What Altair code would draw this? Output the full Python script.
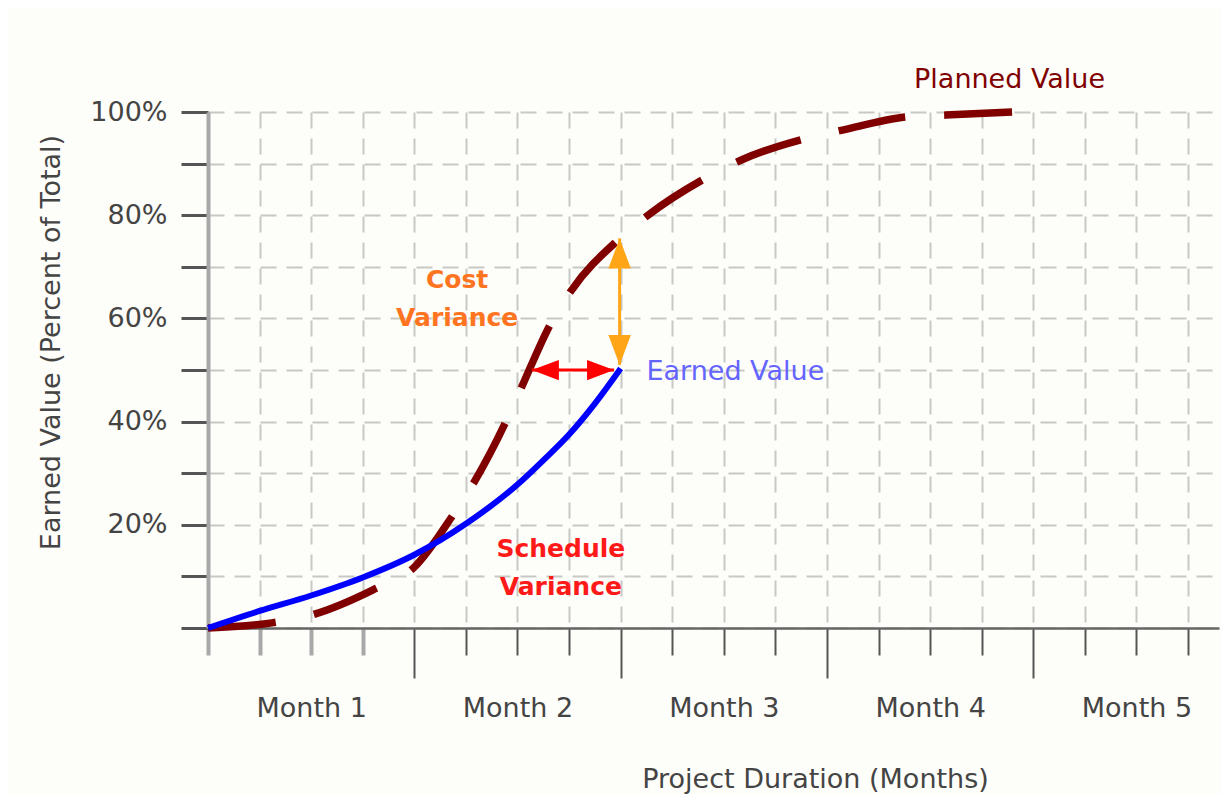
import altair as alt
import pandas as pd

# ---- data (x in grid units: 4 units = 1 month; y in %) ----
pv_t = [0, 1.24, 2.0, 3.2, 4.0, 4.75, 5.15, 5.8, 6.05, 6.65, 7.05, 7.95, 8.53, 9.63, 10.34, 11.6, 12.3, 13.6, 14.3, 15.6]
pv_v = [0, 1.0, 2.5, 7.4, 11.8, 21.9, 28.1, 40.5, 46.0, 59.1, 65.5, 75.2, 80.0, 87.1, 90.7, 94.9, 96.5, 99.1, 99.4, 100]

ev_t = [0, 1, 2, 3, 4, 5, 6, 6.5, 7, 7.5, 8]
ev_v = [0, 3.3, 6.3, 9.8, 14.2, 20.2, 27.8, 32.5, 37.5, 43.5, 50.3]

x_ticks = list(range(0, 20))
y_ticks = list(range(0, 101, 10))

ann_text = ["Planned Value", "Cost\nVariance", "Earned Value", "Schedule\nVariance"]
ann_t = [15.54, 4.83, 8.50, 6.84]
ann_v = [106.2, 67.4, 49.7, 15.3]
ann_color = ["#800000", "#ff7420", "#6464ff", "#ff1a1a"]
ann_align = ["center", "center", "left", "center"]
ann_weight = ["normal", "bold", "normal", "bold"]

# cost variance arrow (vertical) and schedule variance arrow (horizontal)
cv_t = [7.98]
cv_from = [51.0]
cv_to = [75.5]
cv_head_t = [7.98, 7.98]
cv_head_v = [72.6, 53.9]
cv_head_shape = ["M0,-1L-0.75,1L0.75,1Z", "M0,1L-0.75,-1L0.75,-1Z"]

sv_v = [50.0]
sv_from = [6.28]
sv_to = [7.87]
sv_head_t = [6.54, 7.61]
sv_head_v = [50.0, 50.0]
sv_head_shape = ["M-1,0L1,-0.75L1,0.75Z", "M1,0L-1,-0.75L-1,0.75Z"]

FONT = "DejaVu Sans"
W = 1011
H = 516

xscale = alt.Scale(domain=[0, 19.6], nice=False, zero=False)
yscale = alt.Scale(domain=[0, 100], nice=False)

xaxis = alt.Axis(
    values=x_ticks,
    grid=True, gridColor="#c8c8c4", gridDash=[16, 10], gridWidth=2,
    domainColor="#666666", domainWidth=2.5,
    tickSize=alt.condition("datum.value % 4 === 0 && datum.value > 0", alt.value(50), alt.value(27)),
    tickColor=alt.condition("datum.value < 4", alt.value("#a8a8a8"), alt.value("#555555")),
    tickWidth=alt.condition("datum.value < 4", alt.value(4), alt.value(2)),
    labelExpr="datum.value % 4 === 2 ? 'Month ' + ((datum.value + 2) / 4) : ''",
    labelFont=FONT, labelFontSize=27, labelColor="#444444", labelPadding=40,
    labelOverlap=False, labelFlush=False, labelBound=False,
    title="Project Duration (Months)", titleFont=FONT, titleFontSize=27,
    titleFontWeight="normal", titleColor="#444444", titlePadding=22, titleX=607,
)
yaxis = alt.Axis(
    values=y_ticks,
    grid=True, gridColor="#c8c8c4", gridDash=[16, 10], gridWidth=2,
    domainColor="#a8a8a8", domainWidth=4,
    tickSize=27, tickColor="#555555", tickWidth=3,
    labelExpr="datum.value > 0 && datum.value % 20 === 0 ? datum.value + '%' : ''",
    labelFont=FONT, labelFontSize=27, labelColor="#444444", labelPadding=14,
    labelOverlap=False, labelFlush=False,
    title="Earned Value (Percent of Total)", titleFont=FONT, titleFontSize=27,
    titleFontWeight="normal", titleColor="#444444", titlePadding=24, titleY=230,
)

def X(field):
    return alt.X(field, type="quantitative", scale=xscale, axis=xaxis)

def Y(field):
    return alt.Y(field, type="quantitative", scale=yscale, axis=yaxis)

pv = pd.DataFrame({"t": pv_t, "v": pv_v})
ev = pd.DataFrame({"t": ev_t, "v": ev_v})
ann = pd.DataFrame({"text": ann_text, "t": ann_t, "v": ann_v, "color": ann_color,
                    "align": ann_align, "weight": ann_weight})
cv = pd.DataFrame({"t": cv_t, "v1": cv_from, "v2": cv_to})
cvh = pd.DataFrame({"t": cv_head_t, "v": cv_head_v, "shape": cv_head_shape})
sv = pd.DataFrame({"v": sv_v, "t1": sv_from, "t2": sv_to})
svh = pd.DataFrame({"t": sv_head_t, "v": sv_head_v, "shape": sv_head_shape})

pv_line = alt.Chart(pv).mark_line(
    color="#800000", strokeWidth=7.5, strokeDash=[68, 39], interpolate="monotone", strokeCap="butt"
).encode(x=X("t"), y=Y("v"))

ev_line = alt.Chart(ev).mark_line(
    color="#0000ff", strokeWidth=6, interpolate="monotone"
).encode(x=X("t"), y=Y("v"))

cv_rule = alt.Chart(cv).mark_rule(color="#ffa516", strokeWidth=3).encode(
    x=X("t"), y=Y("v1"), y2="v2")
cv_heads = alt.Chart(cvh).mark_point(filled=True, color="#ffa516", size=900, opacity=1).encode(
    x=X("t"), y=Y("v"), shape=alt.Shape("shape:N", scale=None))

sv_rule = alt.Chart(sv).mark_rule(color="#ff0000", strokeWidth=3).encode(
    x=X("t1"), x2="t2", y=Y("v"))
sv_heads = alt.Chart(svh).mark_point(filled=True, color="#ff0000", size=729, opacity=1).encode(
    x=X("t"), y=Y("v"), shape=alt.Shape("shape:N", scale=None))

texts = []
for i in range(len(ann_text)):
    d = ann.iloc[[i]]
    texts.append(
        alt.Chart(d).mark_text(
            font=FONT, fontSize=27 if ann_weight[i] == "normal" else 25,
            fontWeight=ann_weight[i], color=ann_color[i], align=ann_align[i],
            baseline="middle", lineBreak="\n", lineHeight=38,
        ).encode(x=X("t"), y=Y("v"), text="text:N")
    )

chart = alt.layer(pv_line, ev_line, cv_rule, cv_heads, sv_rule, sv_heads, *texts).properties(
    width=W, height=H,
    background="#fdfdf9",
    padding={"left": 29, "top": 58, "right": 2, "bottom": 2},
).configure_view(stroke=None)

chart.save("out.html", embed_options={"renderer": "svg", "actions": False})
